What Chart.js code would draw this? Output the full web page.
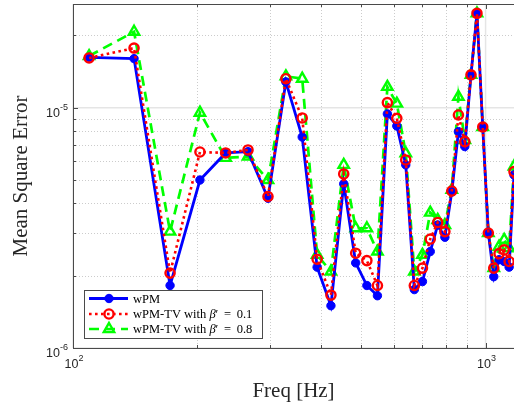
<!DOCTYPE html>
<html>
<head>
<meta charset="utf-8">
<script src="https://cdn.jsdelivr.net/npm/chart.js@4.4.1/dist/chart.umd.min.js"></script>
<style>
    html, body { margin: 0; padding: 0; background: #fff; overflow: hidden; }
    #wrap { width: 514px; height: 408px; }
</style>
</head>
<body>
<div id="wrap"><canvas id="mseChart" width="514" height="408"></canvas></div>
<script>
let freqs = [109.4, 140.6, 171.9, 203.1, 234.4, 265.6, 296.9, 328.1, 359.4, 390.6,
    421.9, 453.1, 484.4, 515.6, 546.9, 578.1, 609.4, 640.6, 671.9, 703.1,
    734.4, 765.6, 796.9, 828.1, 859.4, 890.6, 921.9, 953.1, 984.4, 1015.6,
    1046.9, 1078.1, 1109.4, 1140.6, 1171.9];

let msePM = [1.62e-5, 1.60e-5, 1.82e-6, 5.0e-6, 6.48e-6, 6.56e-6, 4.20e-6, 1.28e-5, 7.55e-6, 2.17e-6,
    1.50e-6, 4.82e-6, 2.26e-6, 1.82e-6, 1.65e-6, 9.42e-6, 8.39e-6, 5.78e-6, 1.75e-6, 1.89e-6,
    2.52e-6, 3.25e-6, 2.89e-6, 4.46e-6, 7.95e-6, 6.89e-6, 1.37e-5, 2.47e-5, 8.31e-6, 3.01e-6,
    1.98e-6, 2.33e-6, 2.29e-6, 2.17e-6, 5.25e-6];

let mseTV01 = [1.61e-5, 1.77e-5, 2.05e-6, 6.54e-6, 6.48e-6, 6.67e-6, 4.27e-6, 1.32e-5, 9.06e-6, 2.34e-6,
    1.66e-6, 5.30e-6, 2.48e-6, 2.31e-6, 1.82e-6, 1.05e-5, 9.03e-6, 6.06e-6, 1.82e-6, 2.15e-6,
    2.84e-6, 3.33e-6, 3.05e-6, 4.50e-6, 9.32e-6, 7.22e-6, 1.37e-5, 2.47e-5, 8.31e-6, 3.01e-6,
    2.15e-6, 2.47e-6, 2.56e-6, 2.29e-6, 5.42e-6];

let mseTV08 = [1.64e-5, 2.07e-5, 3.05e-6, 9.53e-6, 6.18e-6, 6.26e-6, 5.0e-6, 1.35e-5, 1.32e-5, 2.44e-6,
    2.08e-6, 5.78e-6, 3.15e-6, 3.15e-6, 2.52e-6, 1.22e-5, 1.04e-5, 6.46e-6, 2.08e-6, 2.44e-6,
    3.66e-6, 3.41e-6, 3.25e-6, 4.55e-6, 1.11e-5, 7.34e-6, 1.37e-5, 2.47e-5, 8.31e-6, 3.01e-6,
    2.15e-6, 2.64e-6, 2.82e-6, 2.60e-6, 5.69e-6];

let seriesLabels = ['wPM', 'wPM-TV with β′ = 0.1', 'wPM-TV with β′ = 0.8'];
let xTicks = [100, 1000];
let xTickExp = ['2', '3'];
let yTicks = [1e-6, 1e-5];
let yTickExp = ['-6', '-5'];
let xMinor = [200, 300, 400, 500, 600, 700, 800, 900];
let yMinor = [2e-6, 3e-6, 4e-6, 5e-6, 6e-6, 7e-6, 8e-6, 9e-6, 2e-5];

const AXIS_COLOR = '#4a4a4a';

function drawPower(ctx, exp, x, y, align) {
    ctx.font = '12.5px "Liberation Sans", Arial, sans-serif';
    let baseW = ctx.measureText('10').width;
    ctx.font = '9px "Liberation Sans", Arial, sans-serif';
    let expW = ctx.measureText(exp).width;
    let total = baseW + expW;
    let left = align === 'right' ? x - total : x - total / 2;
    ctx.fillStyle = '#262626';
    ctx.textAlign = 'left';
    ctx.textBaseline = 'alphabetic';
    ctx.font = '12.5px "Liberation Sans", Arial, sans-serif';
    ctx.fillText('10', left, y);
    ctx.font = '9px "Liberation Sans", Arial, sans-serif';
    ctx.fillText(exp, left + baseW, y - 7);
}

const gridPlugin = {
    id: 'matlabGrid',
    beforeDatasetsDraw(chart) {
        let ctx = chart.ctx;
        let a = chart.chartArea;
        let xs = chart.scales.x;
        let ys = chart.scales.y;
        ctx.save();
        ctx.lineWidth = 1;
        ctx.strokeStyle = 'rgba(0,0,0,0.2)';
        ctx.setLineDash([1, 2]);
        xMinor.forEach(v => {
            let px = Math.round(xs.getPixelForValue(v)) + 0.5;
            ctx.beginPath(); ctx.moveTo(px, a.top); ctx.lineTo(px, a.bottom); ctx.stroke();
        });
        yMinor.forEach(v => {
            let py = Math.round(ys.getPixelForValue(v)) + 0.5;
            ctx.beginPath(); ctx.moveTo(a.left, py); ctx.lineTo(a.right, py); ctx.stroke();
        });
        ctx.setLineDash([]);
        ctx.strokeStyle = 'rgba(0,0,0,0.1)';
        ctx.lineWidth = 1.5;
        xTicks.forEach(v => {
            let px = xs.getPixelForValue(v);
            ctx.beginPath(); ctx.moveTo(px, a.top); ctx.lineTo(px, a.bottom); ctx.stroke();
        });
        yTicks.forEach(v => {
            let py = ys.getPixelForValue(v);
            ctx.beginPath(); ctx.moveTo(a.left, py); ctx.lineTo(a.right, py); ctx.stroke();
        });
        ctx.restore();
    },
    afterDraw(chart) {
        let ctx = chart.ctx;
        let a = chart.chartArea;
        let xs = chart.scales.x;
        let ys = chart.scales.y;
        ctx.save();

        // frame
        ctx.strokeStyle = AXIS_COLOR;
        ctx.lineWidth = 1;
        ctx.beginPath();
        ctx.moveTo(a.right + 2, a.top + 0.5);
        ctx.lineTo(a.left + 0.5, a.top + 0.5);
        ctx.lineTo(a.left + 0.5, a.bottom + 0.5);
        ctx.lineTo(a.right + 2, a.bottom + 0.5);
        ctx.stroke();

        // tick marks
        let tick = (v, len, isX) => {
            if (isX) {
                let px = Math.round(xs.getPixelForValue(v)) + 0.5;
                ctx.beginPath();
                ctx.moveTo(px, a.bottom); ctx.lineTo(px, a.bottom - len);
                ctx.moveTo(px, a.top); ctx.lineTo(px, a.top + len);
                ctx.stroke();
            } else {
                let py = Math.round(ys.getPixelForValue(v)) + 0.5;
                ctx.beginPath();
                ctx.moveTo(a.left, py); ctx.lineTo(a.left + len, py);
                ctx.stroke();
            }
        };
        xMinor.forEach(v => tick(v, 3, true));
        xTicks.forEach(v => tick(v, 5, true));
        yMinor.forEach(v => tick(v, 3, false));
        yTicks.forEach(v => tick(v, 5, false));

        // tick labels
        xTicks.forEach((v, i) => drawPower(ctx, xTickExp[i], xs.getPixelForValue(v) + 1, a.bottom + 20, 'center'));
        yTicks.forEach((v, i) => drawPower(ctx, yTickExp[i], a.left - 5, ys.getPixelForValue(v) + 9, 'right'));

        // axis titles
        ctx.fillStyle = '#262626';
        ctx.font = '21px "Liberation Serif", "Times New Roman", serif';
        ctx.textAlign = 'center';
        ctx.textBaseline = 'alphabetic';
        ctx.fillText('Freq [Hz]', (a.left + a.right) / 2, 397);
        ctx.save();
        ctx.translate(27, (a.top + a.bottom) / 2);
        ctx.rotate(-Math.PI / 2);
        ctx.fillText('Mean Square Error', 0, 0);
        ctx.restore();

        // legend
        let box = { x: 84.5, y: 290.5, w: 178, h: 48 };
        ctx.fillStyle = '#fff';
        ctx.fillRect(box.x, box.y, box.w, box.h);
        ctx.strokeStyle = AXIS_COLOR;
        ctx.lineWidth = 1;
        ctx.strokeRect(box.x, box.y, box.w, box.h);
        let rowsY = [298.5, 314, 329];
        chart.data.datasets.forEach((ds, i) => {
            let yy = rowsY[i];
            ctx.save();
            ctx.strokeStyle = ds.borderColor;
            ctx.lineWidth = ds.borderWidth;
            ctx.setLineDash(ds.borderDash || []);
            ctx.beginPath(); ctx.moveTo(89, yy); ctx.lineTo(128, yy); ctx.stroke();
            ctx.setLineDash([]);
            ctx.fillStyle = ds.pointBackgroundColor;
            ctx.strokeStyle = ds.pointBorderColor;
            ctx.lineWidth = ds.pointBorderWidth;
            Chart.helpers.drawPoint(ctx, {
                pointStyle: ds.pointStyle, rotation: 0,
                radius: ds.pointRadius, borderWidth: ds.pointBorderWidth
            }, 109, yy);
            ctx.restore();

            let label = seriesLabels[i];
            let parts = label.indexOf('β') >= 0
                ? [[label.split('β')[0], false], ['β', true], [label.split('β')[1].replace(/ /g, ' \u2009'), false]]
                : [[label, false]];
            let tx = 133;
            ctx.fillStyle = '#000';
            ctx.textAlign = 'left';
            ctx.textBaseline = 'middle';
            parts.forEach(p => {
                ctx.font = (p[1] ? 'italic ' : '') + '12.5px "Liberation Serif", "Times New Roman", serif';
                ctx.fillText(p[0], tx, yy + 1);
                tx += ctx.measureText(p[0]).width;
            });
        });
        ctx.restore();
    }
};

let ctx = document.getElementById('mseChart').getContext('2d');
let chartInstance = new Chart(ctx, {
    type: 'line',
    data: {
        labels: freqs,
        datasets: [{
            label: seriesLabels[0],
            data: freqs.map((f, i) => ({ x: f, y: msePM[i] })),
            borderColor: '#0000ff',
            borderWidth: 2.8,
            pointStyle: 'circle',
            pointRadius: 4.2,
            pointBackgroundColor: '#0000ff',
            pointBorderColor: '#0000ff',
            pointBorderWidth: 1,
            order: 1
        }, {
            label: seriesLabels[1],
            data: freqs.map((f, i) => ({ x: f, y: mseTV01[i] })),
            borderColor: '#ff0000',
            borderWidth: 2.6,
            borderDash: [2.6, 3.4],
            pointStyle: 'circle',
            pointRadius: 4.6,
            pointBackgroundColor: 'rgba(255,255,255,0)',
            pointBorderColor: '#ff0000',
            pointBorderWidth: 2.4,
            order: 0
        }, {
            label: seriesLabels[2],
            data: freqs.map((f, i) => ({ x: f, y: mseTV08[i] })),
            borderColor: '#00ff00',
            borderWidth: 2.7,
            borderDash: [10, 6],
            pointStyle: 'triangle',
            pointRadius: 6,
            pointBackgroundColor: 'rgba(255,255,255,0)',
            pointBorderColor: '#00ff00',
            pointBorderWidth: 2.4,
            order: 2
        }]
    },
    options: {
        responsive: false,
        animation: false,
        events: [],
        layout: { padding: { top: 4, right: 0, left: 0, bottom: 0 }, autoPadding: false },
        plugins: {
            legend: { display: false },
            tooltip: { enabled: false }
        },
        elements: { line: { tension: 0 } },
        scales: {
            x: {
                type: 'logarithmic',
                min: 100,
                max: 1172,
                grid: { display: false },
                border: { display: false },
                ticks: { display: false },
                afterFit: scale => { scale.height = 60; }
            },
            y: {
                type: 'logarithmic',
                min: 1e-6,
                max: 2.7e-5,
                grid: { display: false },
                border: { display: false },
                ticks: { display: false },
                afterFit: scale => { scale.width = 73; }
            }
        }
    },
    plugins: [gridPlugin]
});
</script>
</body>
</html>
